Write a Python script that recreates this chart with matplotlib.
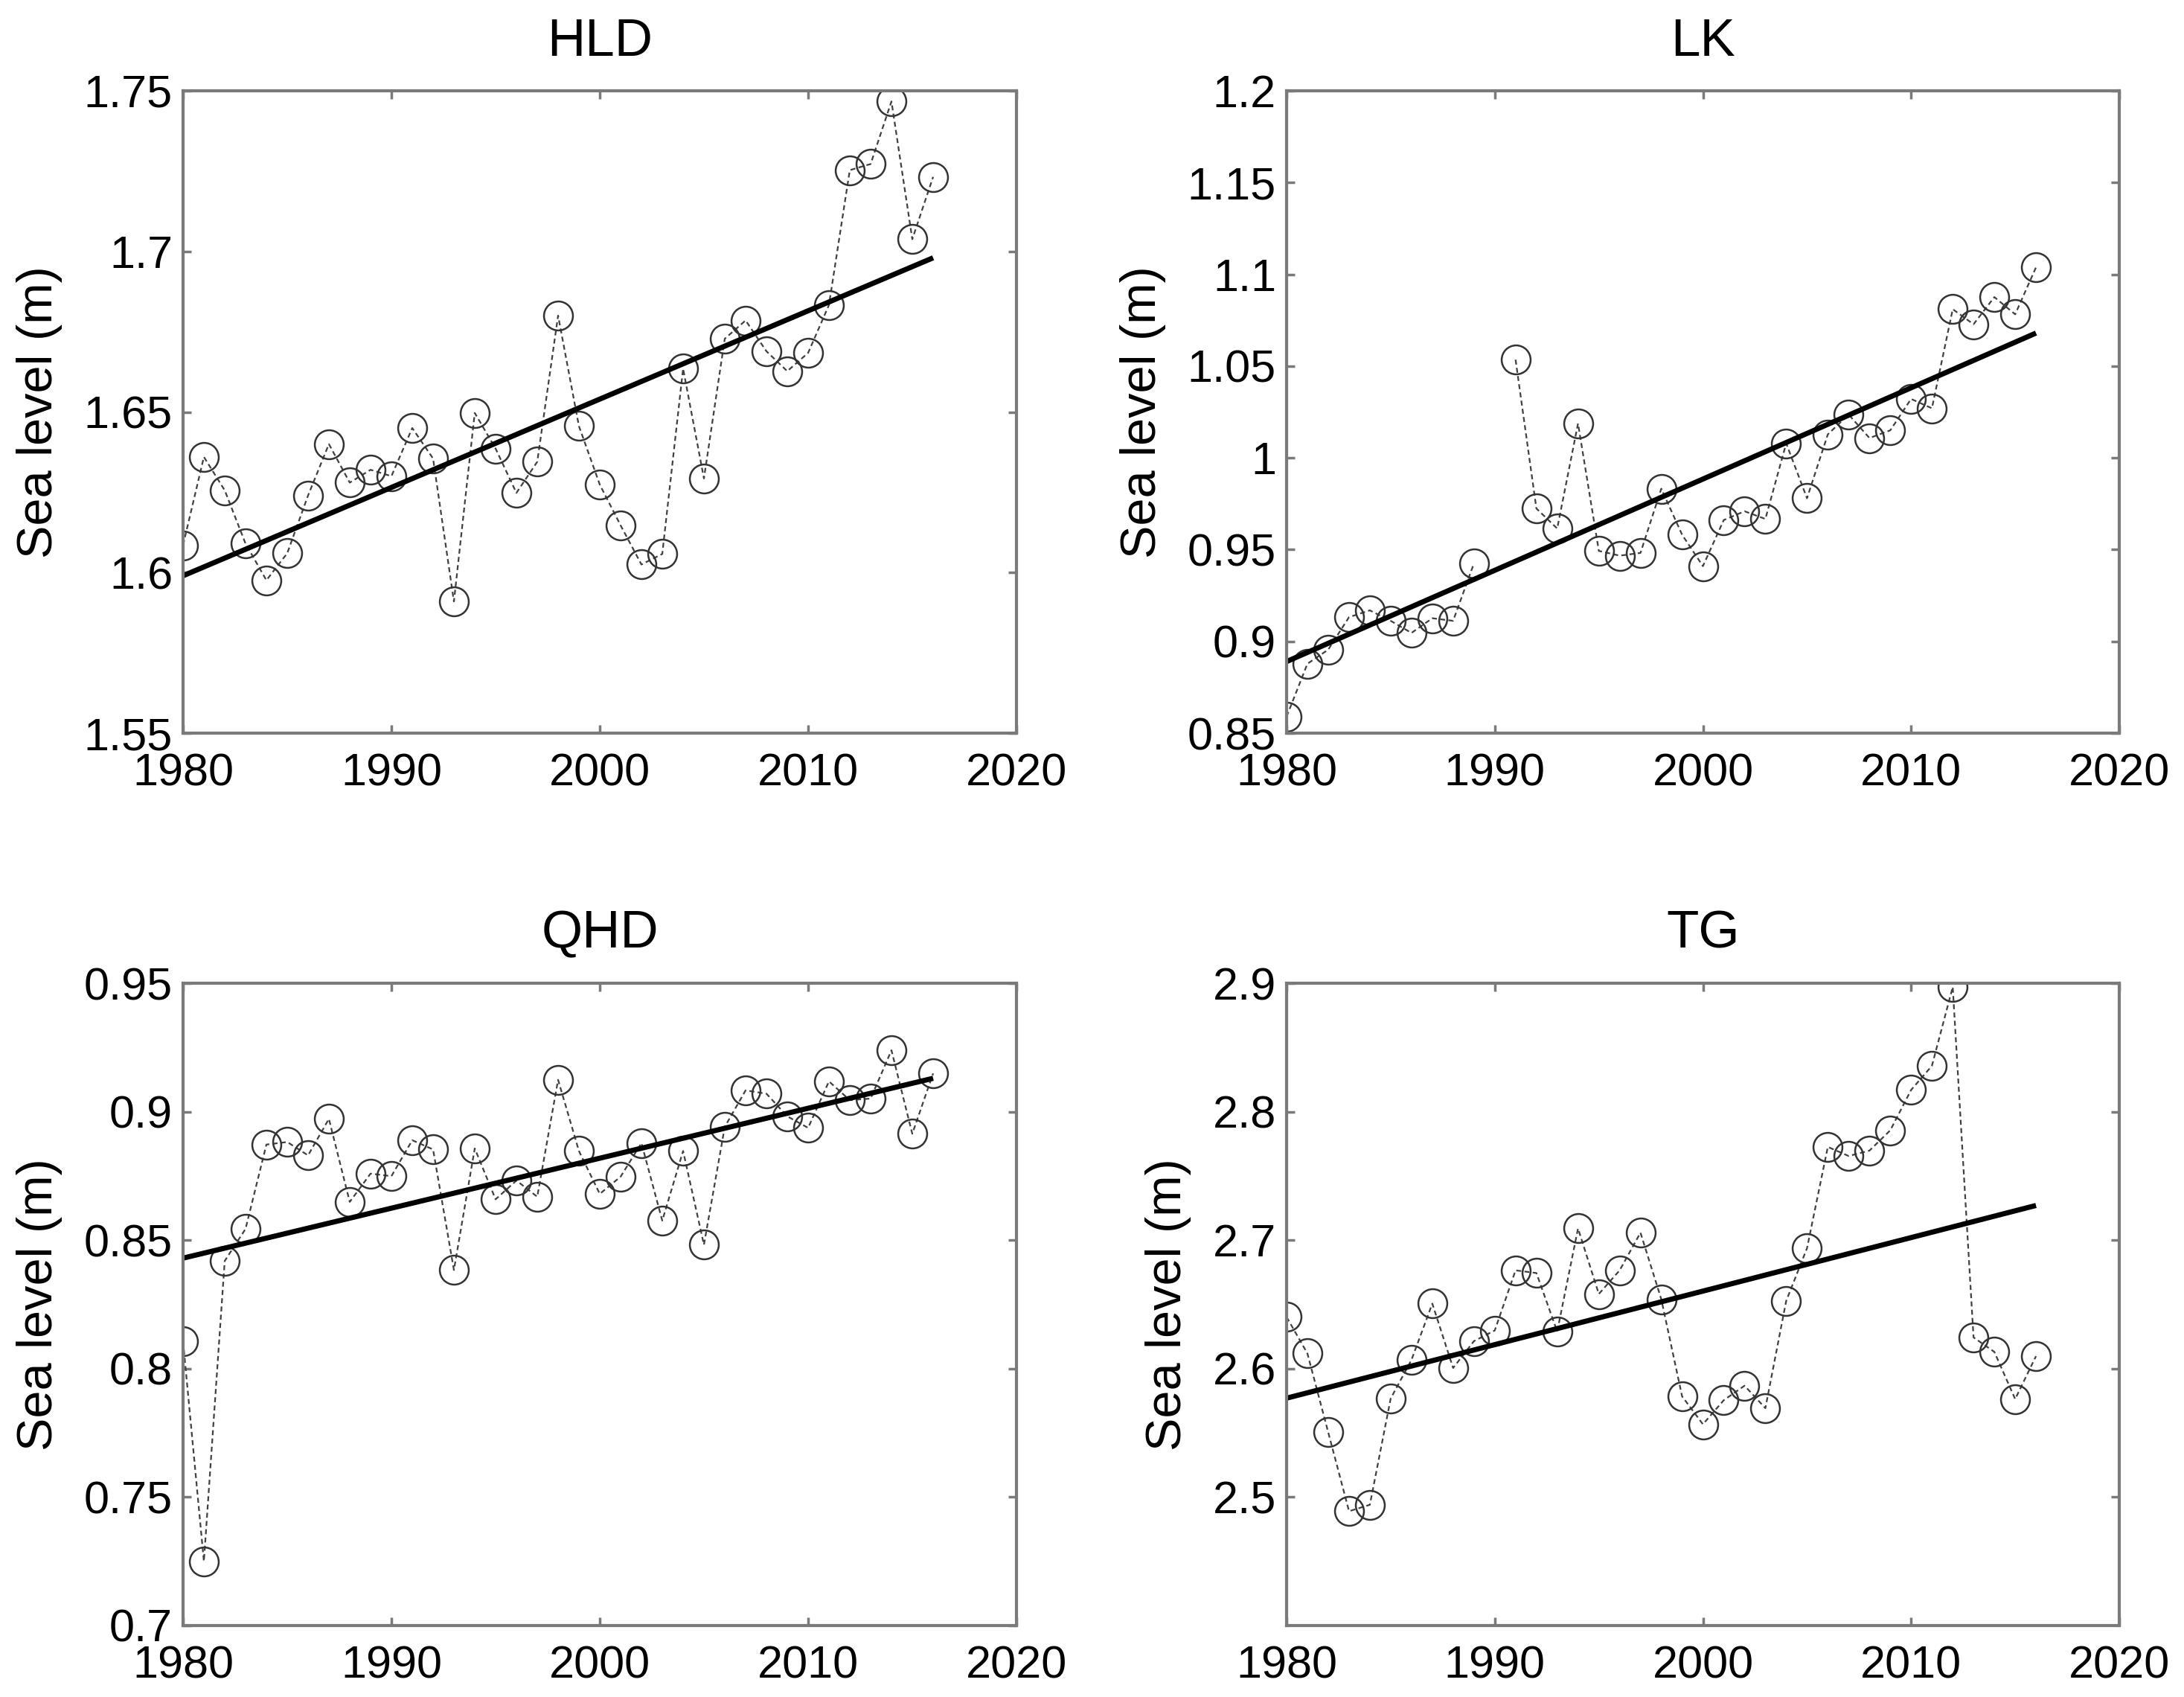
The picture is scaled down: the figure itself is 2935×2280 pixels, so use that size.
import matplotlib
matplotlib.use("Agg")
import matplotlib.pyplot as plt
from matplotlib.ticker import FuncFormatter
import numpy as np

plt.rcParams['font.family'] = ['Liberation Sans', 'DejaVu Sans']

years = list(range(1980, 2017))

# annual mean sea level (m)
hld = [1.6085, 1.636, 1.6256, 1.609, 1.5976, 1.606, 1.624, 1.640, 1.628, 1.632,
       1.630, 1.645, 1.6355, 1.591, 1.6497, 1.6386, 1.6248, 1.6345, 1.680, 1.6456,
       1.6274, 1.6147, 1.6025, 1.6058, 1.6635, 1.6293, 1.6728, 1.6785, 1.6689, 1.6627,
       1.6684, 1.6833, 1.7253, 1.7272, 1.7467, 1.7038, 1.7232]
lk = [0.859, 0.8878, 0.8955, 0.9132, 0.9169, 0.9112, 0.9046, 0.9126, 0.9112, 0.9425,
      np.nan, 1.0535, 0.9724, 0.9615, 1.0187, 0.9493, 0.9467, 0.9482, 0.9832, 0.9581,
      0.941, 0.9661, 0.9709, 0.9667, 1.0079, 0.978, 1.0128, 1.0236, 1.0108, 1.015,
      1.0321, 1.027, 1.081, 1.0728, 1.0876, 1.0782, 1.1038]
qhd = [0.8106, 0.725, 0.8419, 0.8544, 0.8872, 0.8882, 0.883, 0.8972, 0.8649, 0.8759,
       0.8749, 0.8889, 0.8853, 0.8384, 0.8857, 0.8659, 0.8732, 0.8669, 0.9124, 0.8847,
       0.868, 0.8747, 0.8878, 0.8576, 0.8847, 0.8482, 0.8941, 0.9083, 0.907, 0.8982,
       0.8937, 0.9118, 0.9045, 0.9051, 0.9239, 0.8914, 0.9149]
tg = [2.6402, 2.6118, 2.5504, 2.489, 2.494, 2.5767, 2.6068, 2.6506, 2.6005, 2.6214,
      2.6297, 2.6765, 2.6744, 2.6289, 2.7091, 2.6581, 2.6765, 2.7058, 2.654, 2.5784,
      2.5567, 2.5754, 2.5867, 2.5692, 2.6527, 2.6937, 2.7726, 2.7655, 2.7697, 2.7855,
      2.8169, 2.8357, 2.8971, 2.6243, 2.613, 2.5763, 2.6097]

# trend line end values (1980 and 2016)
trend_years = [1980, 2016]
hld_trend = [1.599, 1.698]
lk_trend = [0.889, 1.068]
qhd_trend = [0.843, 0.913]
tg_trend = [2.577, 2.727]

names = ["HLD", "LK", "QHD", "TG"]
series = [hld, lk, qhd, tg]
trends = [hld_trend, lk_trend, qhd_trend, tg_trend]
ylims = [(1.55, 1.75), (0.85, 1.2), (0.7, 0.95), (2.4, 2.9)]
yticks = [[1.55, 1.6, 1.65, 1.7, 1.75],
          [0.85, 0.9, 0.95, 1.0, 1.05, 1.1, 1.15, 1.2],
          [0.7, 0.75, 0.8, 0.85, 0.9, 0.95],
          [2.5, 2.6, 2.7, 2.8, 2.9]]
xticks = [1980, 1990, 2000, 2010, 2020]

W, H = 2935, 2280
fig = plt.figure(figsize=(W / 100, H / 100), dpi=100)

# axes boxes in pixels: left, top, right, bottom
boxes = [(246, 122, 1366, 985), (1729, 122, 2848, 985),
         (246, 1321, 1366, 2184), (1729, 1321, 2848, 2184)]

tick_fs = 44
title_fs = 51
label_fs = 48
frame_col = '#7a7a7a'

for name, vals, tr, yl, yt, (l, t, r, b) in zip(names, series, trends, ylims, yticks, boxes):
    ax = fig.add_axes([l / W, 1 - b / H, (r - l) / W, (b - t) / H])
    ax.plot(years, vals, linestyle=(0, (3, 2)), color='0.25', lw=1.6,
            marker='o', mfc='none', mec='0.2', ms=28, mew=1.8)
    ax.plot(trend_years, tr, color='black', lw=5, solid_capstyle='butt')
    ax.set_xlim(1980, 2020)
    ax.set_ylim(*yl)
    ax.set_xticks(xticks)
    ax.set_yticks(yt)
    ax.yaxis.set_major_formatter(FuncFormatter(lambda v, p: f"{v:g}"))
    ax.tick_params(direction='in', length=8, width=2.5, color=frame_col,
                   top=True, right=True, labelcolor='black', labelsize=tick_fs)
    ax.tick_params(axis='x', pad=19)
    ax.tick_params(axis='y', pad=10)
    for sp in ax.spines.values():
        sp.set_color(frame_col)
        sp.set_linewidth(3)
    ax.set_title(name, fontsize=title_fs, pad=34)
    ax.set_ylabel("Sea level (m)", fontsize=label_fs, labelpad=21)

fig.savefig("out.png", dpi=100, facecolor='white')
